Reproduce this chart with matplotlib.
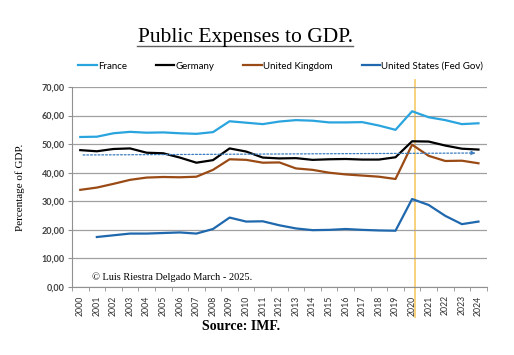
import numpy as np
import matplotlib.pyplot as plt
from matplotlib.lines import Line2D

# ==============================================================================
# DATI (percentuale del PIL)
# ==============================================================================

years = list(range(2000, 2025))

france = [52.5, 52.6, 53.8, 54.3, 54.0, 54.1, 53.8, 53.6, 54.2, 58.0,
          57.5, 57.0, 57.9, 58.4, 58.2, 57.6, 57.6, 57.7, 56.5, 55.0,
          61.5, 59.4, 58.4, 57.0, 57.3]
germany = [47.9, 47.5, 48.3, 48.5, 47.0, 46.8, 45.3, 43.5, 44.4, 48.5,
           47.4, 45.3, 45.0, 45.1, 44.5, 44.7, 44.8, 44.6, 44.6, 45.4,
           51.0, 50.9, 49.5, 48.4, 48.1]
uk = [34.0, 34.8, 36.1, 37.5, 38.3, 38.5, 38.4, 38.6, 41.0, 44.7,
      44.5, 43.5, 43.6, 41.5, 41.0, 40.0, 39.4, 39.0, 38.6, 37.8,
      49.8, 45.9, 44.1, 44.2, 43.3]
# Stati Uniti: serie dal 2001
us_years = years[1:]
us = [17.5, 18.1, 18.7, 18.7, 18.9, 19.1, 18.7, 20.3, 24.3,
      22.9, 23.0, 21.6, 20.5, 19.9, 20.0, 20.3, 20.0, 19.8, 19.7,
      30.8, 28.7, 24.9, 22.0, 22.9]

trend_years = [2000, 2024]
trend_vals = [46.2, 46.9]
covid_year = 2020.2

y_ticks = np.arange(0, 71, 10)

# ==============================================================================
# GRAFICO
# ==============================================================================

fig = plt.figure(figsize=(5.14, 3.55), dpi=100)
ax = fig.add_axes([0.140, 0.1915, 0.807, 0.5635])

ax.plot(years, france, color='#2aa4de', lw=1.6, label='France')
ax.plot(years, germany, color='black', lw=1.6, label='Germany')
ax.plot(years, uk, color='#9a4a14', lw=1.6, label='United Kingdom')
ax.plot(us_years, us, color='#1f68ad', lw=1.6, label='United States (Fed Gov)')

# linea di tendenza tratteggiata con freccia
ax.annotate('', xy=(trend_years[1], trend_vals[1]), xytext=(trend_years[0], trend_vals[0]),
            arrowprops=dict(arrowstyle='-|>', color='#3a7dbf', lw=0.9,
                            linestyle=(0, (1.5, 1.5)), mutation_scale=6))

# linea verticale 2020
ax.axvline(covid_year, ymin=-0.15, ymax=1.035, color='#f7cf72', lw=1.3,
           clip_on=False, zorder=0)

ax.set_xlim(1999.5, 2024.5)
ax.set_ylim(0, 70)
ax.set_yticks(y_ticks)
ax.set_yticklabels([f"{v:.2f}".replace('.', ',') for v in y_ticks],
                   fontsize=6.5, fontweight='bold', color='#404040', family='Lato')
ax.set_xticks(years)
ax.set_xticklabels([str(y) for y in years], rotation=90, fontsize=6.3,
                   family='Lato', color='#303030')
ax.set_xticks(np.arange(1999.5, 2025, 1), minor=True)
ax.tick_params(axis='x', which='major', length=0, pad=6)
ax.tick_params(axis='x', which='minor', length=3, color='#909090')
ax.tick_params(axis='y', length=3, color='#909090', pad=2)

ax.grid(axis='y', color='#a0a0a0', lw=0.9)
ax.set_axisbelow(True)
for s in ['top', 'right']:
    ax.spines[s].set_visible(False)
ax.spines['left'].set_color('#909090')
ax.spines['bottom'].set_color('#909090')

ax.set_ylabel('Percentage of GDP.', family='Liberation Serif', fontsize=8, labelpad=12)

ax.text(2000.7, 3.5, '\u00a9 Luis Riestra Delgado March - 2025.', family='Liberation Serif',
        fontsize=7.5, va='center')

# titolo sottolineato
fig.text(0.477, 0.893, 'Public Expenses to GDP.', family='Liberation Serif', fontsize=15.5,
         ha='center', va='center')
fig.add_artist(Line2D([137 / 514, 353 / 514], [1 - 45.5 / 355] * 2, color='#606060', lw=1.0))

fig.text(0.469, 0.079, 'Source: IMF.', family='Liberation Serif', fontsize=10,
         fontweight='bold', ha='center', va='center')

fig.legend(loc='center', bbox_to_anchor=(0.546, 0.814), ncol=4, frameon=False,
           prop={'family': 'Lato', 'size': 7}, handlelength=1.9, handletextpad=0.1,
           columnspacing=3.0)

fig.savefig('out.png', dpi=100)
